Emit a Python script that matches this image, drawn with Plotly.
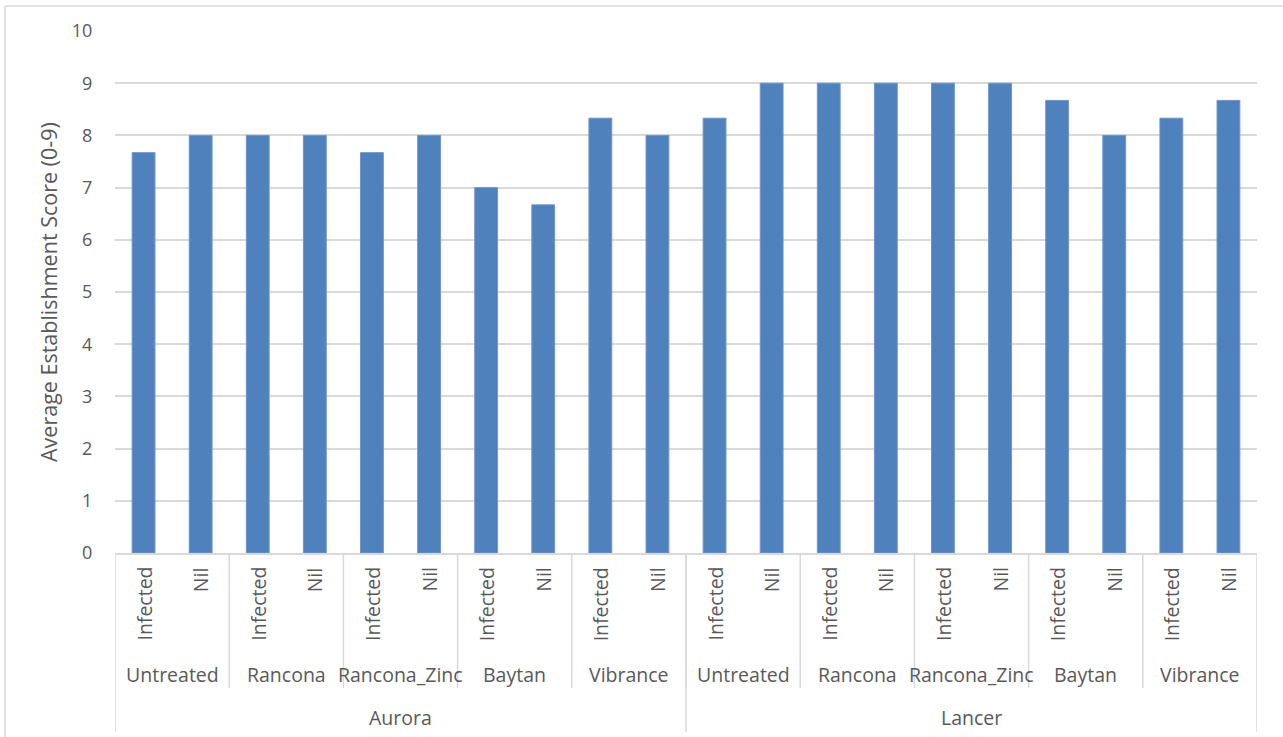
import plotly.graph_objects as go

varieties = ["Aurora", "Lancer"]
treatments = ["Untreated", "Rancona", "Rancona_Zinc", "Baytan", "Vibrance"]
conditions = ["Infected", "Nil"]
aurora_scores = [7.67, 8.0, 8.0, 8.0, 7.67, 8.0, 7.0, 6.67, 8.33, 8.0]
lancer_scores = [8.33, 9.0, 9.0, 9.0, 9.0, 9.0, 8.67, 8.0, 8.33, 8.67]
y_ticks = list(range(0, 11))
y_title = "Average Establishment Score (0-9)"

W, H = 1283, 737
L, R, T, B = 115, 26, 31, 184
PW, PH = W - L - R, H - T - B
FONT = "'Open Sans', sans-serif"
TXT = "#595959"
GRID = "#d9d9d9"
BAR = "#4f81bd"
CAT_SIZE = 19.5
TICK_SIZE = 18
TITLE_SIZE = 21.5

values = aurora_scores + lancer_scores
n = len(values)
xs = list(range(n))

fig = go.Figure()
fig.add_trace(go.Bar(x=xs, y=values, width=0.4, marker=dict(color=BAR, line=dict(color="#6f96cb", width=1)),
                     hoverinfo="y"))

annotations = []
shapes = []
i = 0
for v in varieties:
    start = i
    for t in treatments:
        tstart = i
        for c in conditions:
            annotations.append(dict(x=i, y=0, xref="x", yref="paper", text=c, textangle=-90,
                                    showarrow=False, xanchor="center", yanchor="top", yshift=-12,
                                    font=dict(family=FONT, size=CAT_SIZE, color=TXT)))
            i += 1
        annotations.append(dict(x=(tstart + i - 1) / 2, y=0, xref="x", yref="paper", text=t,
                                showarrow=False, xanchor="center", yanchor="middle", yshift=-121,
                                font=dict(family=FONT, size=CAT_SIZE, color=TXT)))
        if i - 1 < n - 1:
            shapes.append(dict(type="line", xref="x", yref="paper", ysizemode="pixel", yanchor=0,
                               x0=i - 0.5, x1=i - 0.5, y0=0, y1=-135,
                               line=dict(color=GRID, width=1.5)))
    annotations.append(dict(x=(start + i - 1) / 2, y=0, xref="x", yref="paper", text=v,
                            showarrow=False, xanchor="center", yanchor="middle", yshift=-164,
                            font=dict(family=FONT, size=CAT_SIZE, color=TXT)))

for xb in [-0.5, len(aurora_scores) - 0.5, n - 0.5]:
    shapes.append(dict(type="line", xref="x", yref="paper", ysizemode="pixel", yanchor=0,
                       x0=xb, x1=xb, y0=0, y1=-179, line=dict(color=GRID, width=1.5)))

# outer chart border (left and top)
bx = (5 - L) / PW
by = 1 + (T - 6) / PH
shapes.append(dict(type="line", xref="paper", yref="paper", x0=bx, x1=bx, y0=-2, y1=by,
                   line=dict(color=GRID, width=1.5)))
shapes.append(dict(type="line", xref="paper", yref="paper", x0=bx, x1=2, y0=by, y1=by,
                   line=dict(color=GRID, width=1.5)))

annotations.append(dict(x=0, y=0.5, xref="paper", yref="paper", text=y_title, textangle=-90,
                        showarrow=False, xanchor="center", yanchor="middle", xshift=48 - L,
                        font=dict(family=FONT, size=TITLE_SIZE, color=TXT)))

fig.update_layout(
    width=W, height=H,
    margin=dict(l=L, r=R, t=T, b=B),
    paper_bgcolor="white", plot_bgcolor="white",
    showlegend=False,
    bargap=0.6,
    xaxis=dict(range=[-0.5, n - 0.5], showticklabels=False, showgrid=False, zeroline=False,
               showline=True, linecolor=GRID, linewidth=1.5, fixedrange=True),
    yaxis=dict(range=[0, 10], tickvals=y_ticks, showgrid=True, gridcolor=GRID, gridwidth=1.5,
               zeroline=False, showline=False, ticks="outside", ticklen=18, tickcolor="rgba(0,0,0,0)",
               tickfont=dict(family=FONT, size=TICK_SIZE, color=TXT)),
    annotations=annotations,
    shapes=shapes,
)

fig.write_html("out.html")
